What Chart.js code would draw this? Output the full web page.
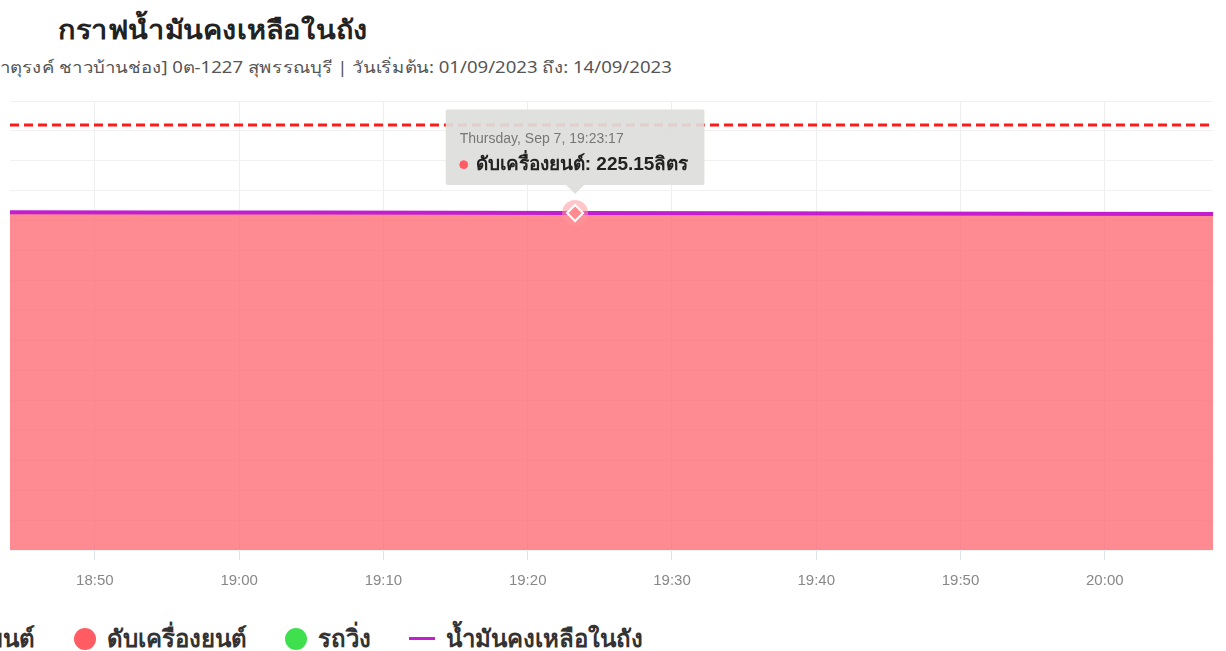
<!DOCTYPE html>
<html>
<head>
<meta charset="utf-8">
<script src="https://cdn.jsdelivr.net/npm/chart.js@4.4.0/dist/chart.umd.min.js"></script>
<style>
  html, body { margin: 0; padding: 0; background: #fff; overflow: hidden; }
  body { width: 1226px; height: 651px; position: relative; font-family: "Noto Sans", "Noto Sans CJK SC", sans-serif; }
  #title { position: absolute; left: 58px; top: 9px; font-size: 26px; font-weight: 700; color: #222; white-space: nowrap; transform: scaleX(1.11); transform-origin: left center; }
  #subtitle { position: absolute; left: 0; top: 55px; font-size: 16px; color: #555; white-space: nowrap; transform: scaleX(1.16); transform-origin: left center; }
  #wrap { position: absolute; left: 0; top: 0; width: 1226px; height: 602px; }
  #legend { position: absolute; top: 619px; left: 74px; display: flex; align-items: center; gap: 38px; white-space: nowrap; font-size: 24px; font-weight: 600; color: #333; }
  .item { display: flex; align-items: center; gap: 11px; }
  .item.first { position: absolute; right: 100%; margin-right: 39px; }
  .dot { width: 22px; height: 22px; border-radius: 50%; display: inline-block; }
  .line { width: 26px; height: 3px; display: inline-block; }
</style>
</head>
<body>
<div id="title">กราฟน้ำมันคงเหลือในถัง</div>
<div id="subtitle">าตุรงค์ ชาวบ้านช่อง] 0ต-1227 สุพรรณบุรี | วันเริ่มต้น: 01/09/2023 ถึง: 14/09/2023</div>
<div id="wrap"><canvas id="chart"></canvas></div>
<div id="legend"></div>
<script>
// time of each reading (Sep 7) and remaining fuel in litres
const times = ['18:44:07', '18:55:00', '19:05:00', '19:15:00', '19:23:17', '19:35:00', '19:45:00', '19:55:00', '20:07:30'];
const fuel = [225.7, 225.58, 225.45, 225.3, 225.15, 225.0, 224.85, 224.7, 224.5];
const limitLine = [284, 284];
const limitTimes = ['18:44:07', '20:07:30'];
const xTicks = ['18:50', '19:00', '19:10', '19:20', '19:30', '19:40', '19:50', '20:00'];

const legendItems = [
  { label: 'ติดเครื่องยนต์', color: '#feb019', type: 'dot' },
  { label: 'ดับเครื่องยนต์', color: '#ff5c64', type: 'dot' },
  { label: 'รถวิ่ง', color: '#3ee04e', type: 'dot' },
  { label: 'น้ำมันคงเหลือในถัง', color: '#c21ecf', type: 'line' },
];

function toMin(t) {
  const [h, m, s] = t.split(':').map(Number);
  return h * 60 + m + (s || 0) / 60;
}
function fmt(v) {
  const h = Math.floor(v / 60), m = Math.round(v % 60);
  return h + ':' + String(m).padStart(2, '0');
}

const tickValues = xTicks.map(toMin);
const fuelPts = times.map((t, i) => ({ x: toMin(t), y: fuel[i] }));
const limitPts = limitTimes.map((t, i) => ({ x: toMin(t), y: limitLine[i] }));

const haloPlugin = {
  id: 'halo',
  afterDatasetsDraw(chart) {
    const act = chart.getActiveElements();
    if (!act.length) return;
    const { x, y } = act[0].element;
    const ctx = chart.ctx;
    ctx.save();
    ctx.fillStyle = 'rgba(255,150,155,0.55)';
    ctx.beginPath();
    ctx.arc(x, y, 13, 0, Math.PI * 2);
    ctx.fill();
    ctx.fillStyle = '#ff8a90';
    ctx.strokeStyle = '#fff';
    ctx.lineWidth = 2;
    ctx.beginPath();
    ctx.moveTo(x, y - 8); ctx.lineTo(x + 8, y); ctx.lineTo(x, y + 8); ctx.lineTo(x - 8, y); ctx.closePath();
    ctx.fill(); ctx.stroke();
    ctx.restore();
  }
};

const chart = new Chart(document.getElementById('chart'), {
  type: 'line',
  data: {
    datasets: [
      {
        label: 'ดับเครื่องยนต์',
        data: fuelPts,
        borderColor: '#f06a72',
        backgroundColor: 'rgba(255,100,110,0.75)',
        borderWidth: 2,
        fill: 'origin',
        pointRadius: 0,
        pointHoverRadius: 0,
        order: 3,
      },
      {
        label: 'น้ำมันคงเหลือในถัง',
        data: fuelPts,
        borderColor: '#c21ecf',
        borderWidth: 4,
        fill: false,
        pointRadius: 0,
        pointHoverRadius: 0,
        order: 2,
      },
      {
        label: 'limit',
        data: limitPts,
        borderColor: '#ff1a1a',
        borderWidth: 3,
        borderDash: [9, 5],
        fill: false,
        pointRadius: 0,
        pointHoverRadius: 0,
        order: 1,
      },
    ]
  },
  options: {
    responsive: true,
    maintainAspectRatio: false,
    animation: false,
    events: [],
    layout: { padding: { left: 10, right: 13, top: 101, bottom: 0 } },
    scales: {
      x: {
        type: 'linear',
        min: toMin(times[0]),
        max: toMin(times[times.length - 1]),
        afterBuildTicks: (axis) => { axis.ticks = tickValues.map((v) => ({ value: v })); },
        grid: { color: '#eeeeee', tickColor: '#dde3ec', tickLength: 10, drawOnChartArea: true },
        border: { display: false },
        ticks: { color: '#888', font: { size: 15 }, padding: 12, maxRotation: 0, callback: (v) => fmt(v) },
      },
      y: {
        min: 0,
        max: 300,
        ticks: { display: false, stepSize: 20 },
        grid: { color: '#f1f1f1', drawTicks: false },
        border: { display: false },
      }
    },
    plugins: {
      legend: { display: false },
      tooltip: {
        filter: (item) => item.datasetIndex === 0,
        backgroundColor: 'rgba(222,222,220,0.93)',
        titleColor: '#777',
        titleFont: { size: 14, weight: 'normal' },
        bodyColor: '#222',
        bodyFont: { size: 19, weight: 'bold' },
        padding: { top: 21, bottom: 9, left: 14, right: 16 },
        titleMarginBottom: 6,
        cornerRadius: 2,
        caretSize: 9,
        caretPadding: 19,
        yAlign: 'bottom',
        xAlign: 'center',
        usePointStyle: true,
        boxWidth: 8,
        boxHeight: 8,
        boxPadding: 6,
        callbacks: {
          title: () => 'Thursday, Sep 7, ' + times[4],
          label: (c) => c.dataset.label + ': ' + c.parsed.y.toFixed(2) + 'ลิตร',
          labelColor: () => ({ borderColor: '#ff5c64', backgroundColor: '#ff5c64' }),
          labelPointStyle: () => ({ pointStyle: 'circle', rotation: 0 }),
        }
      }
    }
  },
  plugins: [haloPlugin]
});

const active = [{ datasetIndex: 0, index: 4 }];
chart.setActiveElements(active);
const el = chart.getDatasetMeta(0).data[4];
chart.tooltip.setActiveElements(active, { x: el.x, y: el.y });
chart.update();

const legend = document.getElementById('legend');
legendItems.forEach((it, i) => {
  const d = document.createElement('div');
  d.className = i === 0 ? 'item first' : 'item';
  const mark = document.createElement('span');
  mark.className = it.type;
  mark.style.background = it.color;
  d.appendChild(mark);
  const s = document.createElement('span');
  s.textContent = it.label;
  d.appendChild(s);
  legend.appendChild(d);
});
</script>
</body>
</html>
